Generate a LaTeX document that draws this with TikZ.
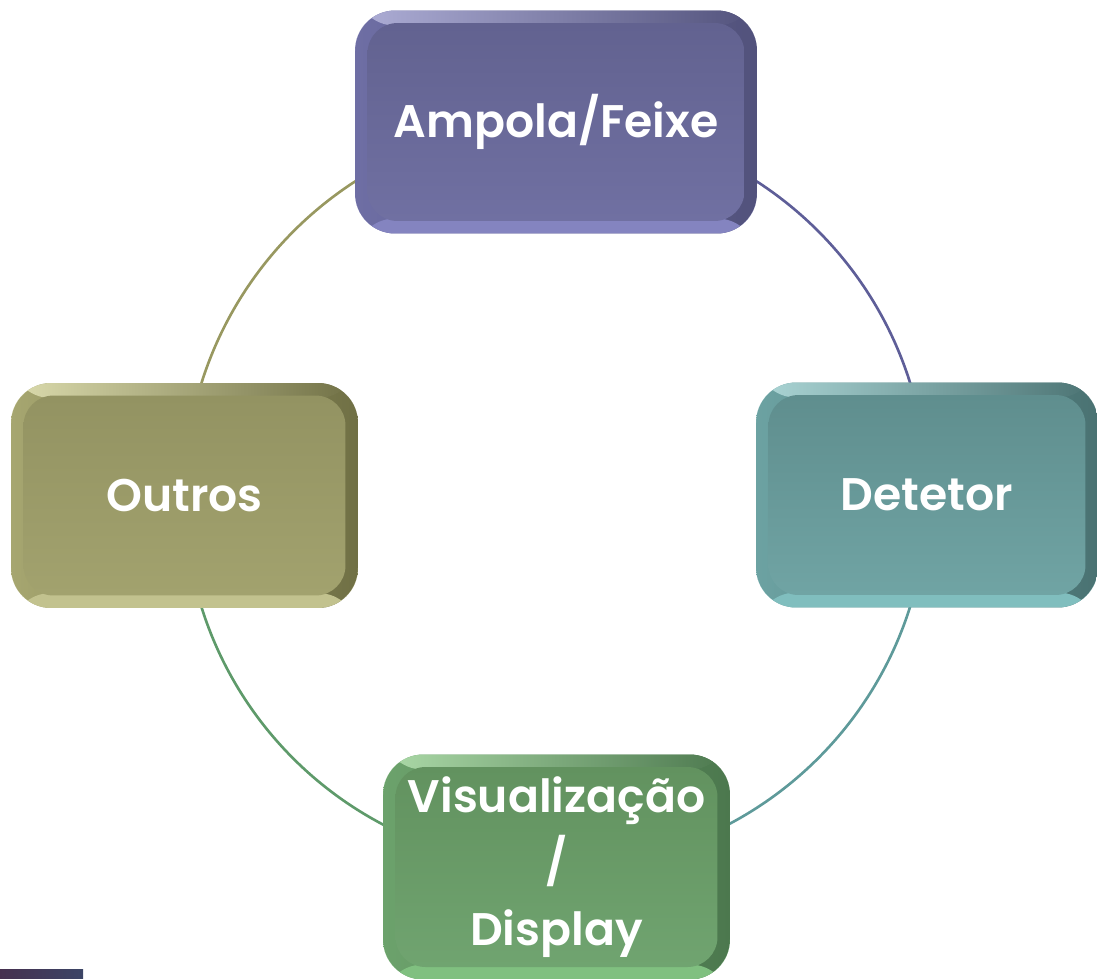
\documentclass[tikz,border=0pt]{standalone}
\usepackage{fontspec}
\setmainfont{Poppins}[BoldFont={Poppins SemiBold}]
\usetikzlibrary{backgrounds}
% box colours: rim light/mid/dark, bottom edge, face top/bottom
\definecolor{ampolalight}{HTML}{AEAED6}
\definecolor{ampolamid}{HTML}{6E6EA4}
\definecolor{ampoladark}{HTML}{52527C}
\definecolor{ampolarim}{HTML}{8484C0}
\definecolor{ampolatop}{HTML}{626290}
\definecolor{ampolabottom}{HTML}{7070A2}
\definecolor{outroslight}{HTML}{DCDCAE}
\definecolor{outrosmid}{HTML}{A6A670}
\definecolor{outrosdark}{HTML}{707045}
\definecolor{outrosrim}{HTML}{C2C28E}
\definecolor{outrostop}{HTML}{939362}
\definecolor{outrosbottom}{HTML}{A2A26E}
\definecolor{detetorlight}{HTML}{ACD6D6}
\definecolor{detetormid}{HTML}{6CA2A2}
\definecolor{detetordark}{HTML}{4A7272}
\definecolor{detetorrim}{HTML}{80BEBE}
\definecolor{detetortop}{HTML}{5F8E8E}
\definecolor{detetorbottom}{HTML}{70A4A4}
\definecolor{visuallight}{HTML}{ACDAA8}
\definecolor{visualmid}{HTML}{6CA26C}
\definecolor{visualdark}{HTML}{4C784E}
\definecolor{visualrim}{HTML}{80C080}
\definecolor{visualtop}{HTML}{62925F}
\definecolor{visualbottom}{HTML}{70A470}
\definecolor{ringampola}{HTML}{5E5E98}
\definecolor{ringdetetor}{HTML}{5E9A9A}
\definecolor{ringvisual}{HTML}{5E9A6A}
\definecolor{ringoutros}{HTML}{989860}
\definecolor{cornerleft}{HTML}{46304F}
\definecolor{cornerright}{HTML}{3C4566}
\tikzset{stage/.style={rectangle,rounded corners=0.8cm,minimum width=6.94cm,minimum height=4.5cm,
  left color=#1mid,right color=#1dark,text=white,align=center,
  font=\bfseries\fontsize{26}{38}\selectfont,
  path picture={
    \shade[left color=#1light,right color=#1dark] (path picture bounding box.north west) rectangle ([yshift=-0.3cm]path picture bounding box.north east);
    \fill[#1rim] ([yshift=0.3cm]path picture bounding box.south west) rectangle (path picture bounding box.south east);
    \shade[top color=#1top,bottom color=#1bottom,rounded corners=0.6cm]
      ([xshift=0.25cm,yshift=-0.25cm]path picture bounding box.north west) rectangle
      ([xshift=-0.25cm,yshift=0.25cm]path picture bounding box.south east);}}}
\tikzstyle{ring}=[line width=1.5pt]

\begin{document}
\begin{tikzpicture}[x=0.02cm,y=-0.02cm]
	\useasboundingbox (0,0) rectangle (1097,978);
	\node[stage=ampola,minimum width=8.04cm,minimum height=4.46cm] (ampola) at (556,122) {Ampola/Feixe};
	\node[stage=detetor,minimum width=6.84cm] (detetor) at (927,495) {Detetor};
	\node[stage=visual] (visual) at (556.5,867) {Visualização\\/\\Display};
	\node[stage=outros] (outros) at (184.5,495.5) {Outros};
	
	\begin{scope}[on background layer]
	\draw[ring,ringampola] (ampola.center) to[bend left=45] (detetor.center);
	\draw[ring,ringdetetor] (detetor.center) to[bend left=45] (visual.center);
	\draw[ring,ringvisual] (visual.center) to[bend left=45] (outros.center);
	\draw[ring,ringoutros] (outros.center) to[bend left=45] (ampola.center);
	\end{scope}
	
	\shade[left color=cornerleft,right color=cornerright] (0,969) rectangle (83,978);
\end{tikzpicture}
\end{document}
